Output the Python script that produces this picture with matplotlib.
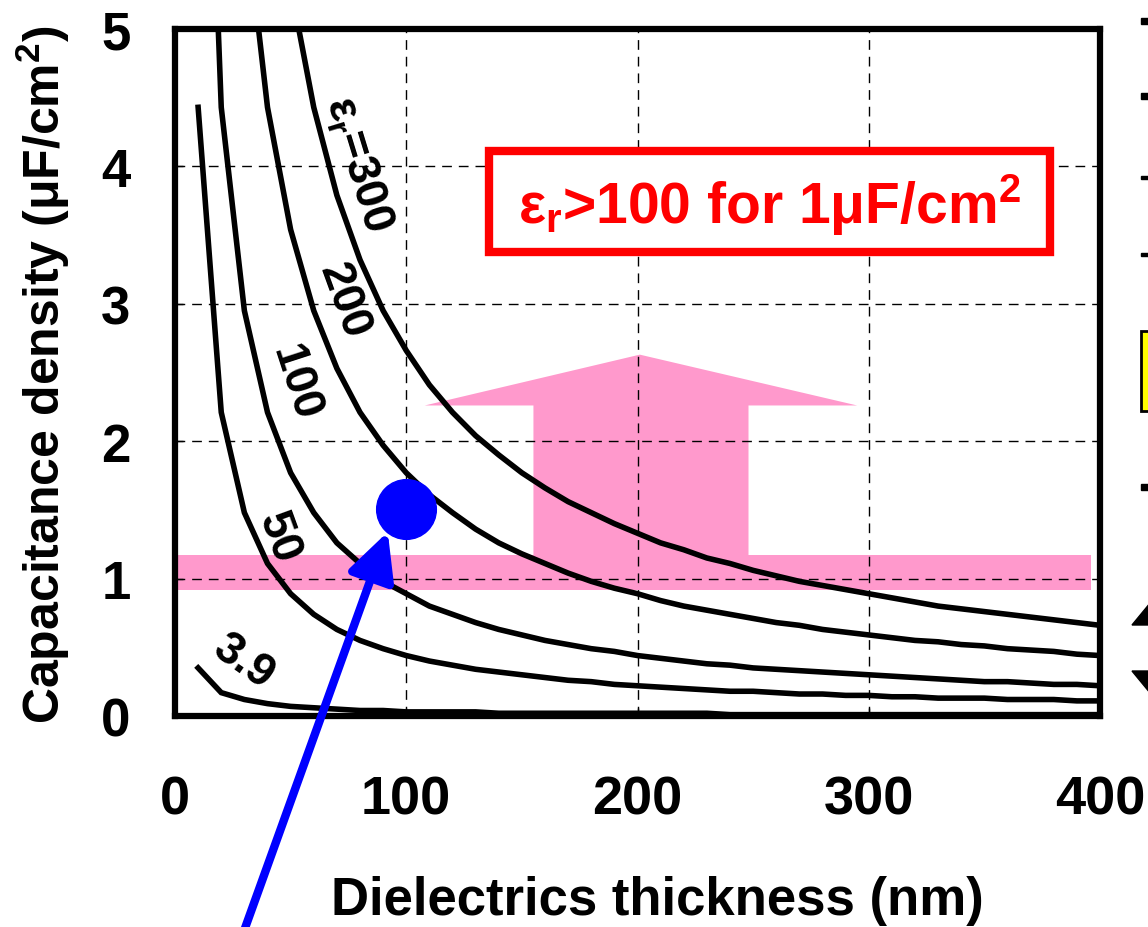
import matplotlib
matplotlib.use("Agg")
import matplotlib.pyplot as plt
from matplotlib.patches import Rectangle, Polygon

plt.rcParams["font.family"] = ["Liberation Sans", "DejaVu Sans"]
plt.rcParams["font.weight"] = "bold"
plt.rcParams["mathtext.fontset"] = "custom"
plt.rcParams["mathtext.rm"] = "Liberation Sans:bold"
plt.rcParams["mathtext.it"] = "Liberation Sans:bold"
plt.rcParams["mathtext.bf"] = "Liberation Sans:bold"

# --- data ---
thickness = [10, 20, 30, 40, 50, 60, 70, 80, 90, 100,
             110, 120, 130, 140, 150, 160, 170, 180, 190, 200,
             210, 220, 230, 240, 250, 260, 270, 280, 290, 300,
             310, 320, 330, 340, 350, 360, 370, 380, 390, 400]
cap_3_9 = [0.35, 0.17, 0.12, 0.09, 0.07, 0.06, 0.05, 0.04, 0.04, 0.03,
           0.03, 0.03, 0.03, 0.02, 0.02, 0.02, 0.02, 0.02, 0.02, 0.02,
           0.02, 0.02, 0.02, 0.01, 0.01, 0.01, 0.01, 0.01, 0.01, 0.01,
           0.01, 0.01, 0.01, 0.01, 0.01, 0.01, 0.01, 0.01, 0.01, 0.01]
cap_50 = [4.43, 2.21, 1.48, 1.11, 0.89, 0.74, 0.63, 0.55, 0.49, 0.44,
          0.40, 0.37, 0.34, 0.32, 0.30, 0.28, 0.26, 0.25, 0.23, 0.22,
          0.21, 0.20, 0.19, 0.18, 0.18, 0.17, 0.16, 0.16, 0.15, 0.15,
          0.14, 0.14, 0.13, 0.13, 0.13, 0.12, 0.12, 0.12, 0.11, 0.11]
cap_100 = [8.85, 4.43, 2.95, 2.21, 1.77, 1.48, 1.26, 1.11, 0.98, 0.89,
           0.80, 0.74, 0.68, 0.63, 0.59, 0.55, 0.52, 0.49, 0.47, 0.44,
           0.42, 0.40, 0.38, 0.37, 0.35, 0.34, 0.33, 0.32, 0.31, 0.30,
           0.29, 0.28, 0.27, 0.26, 0.25, 0.25, 0.24, 0.23, 0.23, 0.22]
cap_200 = [17.71, 8.85, 5.90, 4.43, 3.54, 2.95, 2.53, 2.21, 1.97, 1.77,
           1.61, 1.48, 1.36, 1.26, 1.18, 1.11, 1.04, 0.98, 0.93, 0.89,
           0.84, 0.80, 0.77, 0.74, 0.71, 0.68, 0.66, 0.63, 0.61, 0.59,
           0.57, 0.55, 0.54, 0.52, 0.51, 0.49, 0.48, 0.47, 0.45, 0.44]
cap_300 = [26.56, 13.28, 8.85, 6.64, 5.31, 4.43, 3.79, 3.32, 2.95, 2.66,
           2.41, 2.21, 2.04, 1.90, 1.77, 1.66, 1.56, 1.48, 1.40, 1.33,
           1.26, 1.21, 1.15, 1.11, 1.06, 1.02, 0.98, 0.95, 0.92, 0.89,
           0.86, 0.83, 0.80, 0.78, 0.76, 0.74, 0.72, 0.70, 0.68, 0.66]
curves = [cap_3_9, cap_50, cap_100, cap_200, cap_300]

curve_labels = [r"3.9", "50", "100", "200", r"$ε_r$=300"]
label_x = [30, 45, 52, 73, 79]
label_y = [0.40, 1.30, 2.43, 3.03, 4.02]
label_rot = [-35, -70, -72, -70, -73]

x_ticks = [0, 100, 200, 300, 400]
y_ticks = [0, 1, 2, 3, 4, 5]

point_x, point_y = 100, 1.51          # blue dot
arrow_tip = (92, 1.34)
arrow_tail = (28, -1.65)

band_lo, band_hi, band_right = 0.92, 1.17, 396
stem_left, stem_right, head_left, head_right = 155, 248, 108, 295
head_base, head_top, head_x = 2.26, 2.63, 201

box_x0, box_y0, box_x1, box_y1 = 135.6, 3.38, 378.4, 4.11
box_text = r"$ε_r$>100 for 1μF/cm$^2$"

PINK = "#FF99CC"

fig = plt.figure(figsize=(11.48, 9.28), dpi=100)
ax = fig.add_axes([175 / 1148, 211 / 928, 925 / 1148, 687 / 928])

for c in curves:
    ax.plot(thickness, c, color="black", lw=4, zorder=4,
            solid_joinstyle="miter")

for t, x, y, r in zip(curve_labels, label_x, label_y, label_rot):
    ax.text(x, y, t, rotation=r, rotation_mode="anchor", ha="center",
            va="center", fontsize=33, fontweight="bold", zorder=5)

# pink band and big arrow
ax.add_patch(Rectangle((0, band_lo), band_right, band_hi - band_lo,
                       facecolor=PINK, edgecolor="none", zorder=1))
ax.add_patch(Polygon([(stem_left, band_hi), (stem_right, band_hi),
                      (stem_right, head_base), (head_right, head_base),
                      (head_x, head_top), (head_left, head_base),
                      (stem_left, head_base)],
                     closed=True, facecolor=PINK, edgecolor="none", zorder=1))

# red box
ax.add_patch(Rectangle((box_x0, box_y0), box_x1 - box_x0, box_y1 - box_y0,
                       facecolor="white", edgecolor="red", lw=6, zorder=3))
ax.text((box_x0 + box_x1) / 2, (box_y0 + box_y1) / 2 - 0.02, box_text,
        color="red", fontsize=41, fontweight="bold", ha="center",
        va="center", zorder=4)

ax.plot([point_x], [point_y], "o", color="blue", ms=43, zorder=6)
ax.annotate("", xy=arrow_tip, xytext=arrow_tail, annotation_clip=False,
            arrowprops=dict(arrowstyle="-|>", color="blue", lw=6,
                            mutation_scale=72, shrinkA=0, shrinkB=0),
            zorder=7)

ax.set_xlim(0, 400)
ax.set_ylim(0, 5)
ax.set_xticks(x_ticks)
ax.set_yticks(y_ticks)
ax.grid(True, color="black", lw=1.0, linestyle=(0, (7, 5)))
ax.tick_params(direction="in", length=6, width=1)
ax.tick_params(axis="x", labelsize=39, pad=42)
ax.tick_params(axis="y", labelsize=38, pad=32)
for lab in ax.get_xticklabels() + ax.get_yticklabels():
    lab.set_fontweight("bold")
for s in ax.spines.values():
    s.set_linewidth(4.5)

fig.text(657 / 1148, 1 - 901 / 928, "Dielectrics thickness (nm)",
         fontsize=38, fontweight="bold", ha="center", va="center")
fig.text(43 / 1148, 1 - 375 / 928, "Capacitance density (μF/cm$^2$)",
         fontsize=36, fontweight="bold", ha="center", va="center",
         rotation=90)

# pieces of the neighbouring panel cut off at the right edge
def px(x, y):
    return x / 1148, 1 - y / 928

for yc, h in [(22, 6), (97, 6), (178, 3), (255, 3), (488, 6)]:
    fig.add_artist(Rectangle(px(1141, yc + h / 2), 10 / 1148, h / 928,
                             transform=fig.transFigure, color="black"))
fig.add_artist(Rectangle(px(1141, 412), 10 / 1148, 80 / 928,
                         transform=fig.transFigure, facecolor="yellow",
                         edgecolor="black", lw=2))
fig.add_artist(Polygon([px(1132, 626), px(1188, 626), px(1160, 592)],
                       transform=fig.transFigure, color="black"))
fig.add_artist(Polygon([px(1132, 672), px(1188, 672), px(1160, 706)],
                       transform=fig.transFigure, color="black"))

fig.savefig("out.png", dpi=100)
